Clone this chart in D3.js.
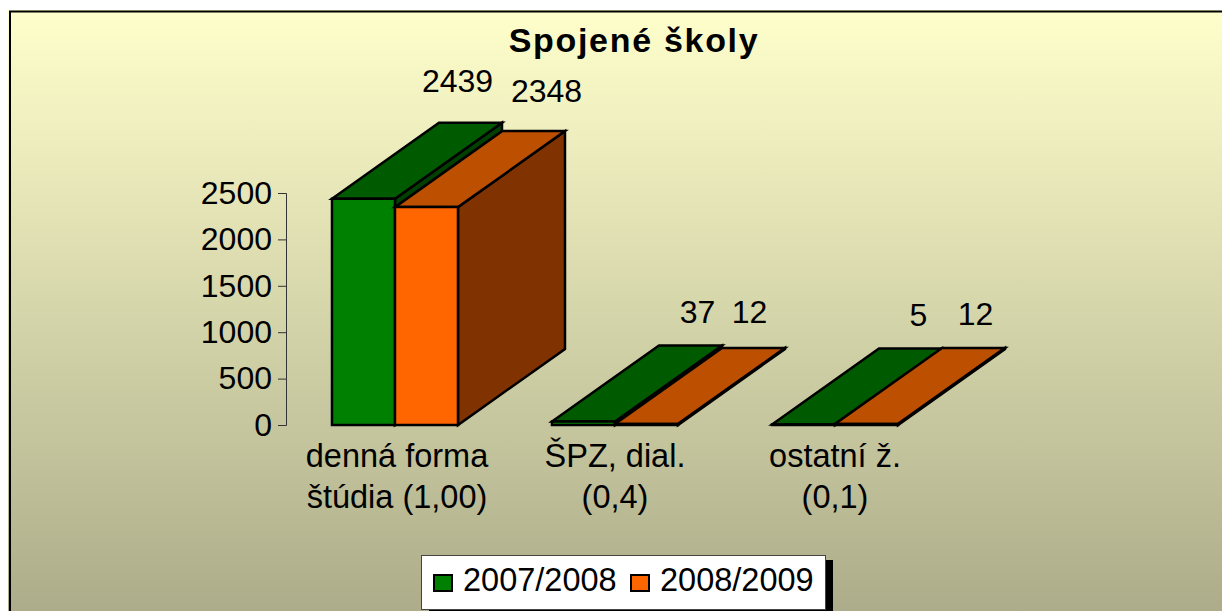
<!DOCTYPE html>
<html><head><meta charset="utf-8">
<script src="https://cdn.jsdelivr.net/npm/d3@7"></script>
<style>html,body{margin:0;padding:0;background:#fff;overflow:hidden}svg{display:block}text{font-family:"Liberation Sans",Arial,sans-serif;fill:#000}</style>
</head><body><div id="c"></div>
<script>
const title = "Spojené školy";
const categories = ["denná forma|štúdia (1,00)", "ŠPZ, dial.|(0,4)", "ostatní ž.|(0,1)"];
const seriesNames = ["2007/2008", "2008/2009"];
const values2007 = [2439, 37, 5];
const values2008 = [2348, 12, 12];
const yTicks = [0, 500, 1000, 1500, 2000, 2500];
const frontColors = ["#008000", "#FF6600"];
const topColors = ["#005A00", "#BD4F00"];
const sideColors = ["#004000", "#803300"];

const W = 1222, H = 611, FS = 32, FS2 = 32.5;
const depthX = 107, depthY = 76;
const labelDx = [[94, 114, 115], [120, 103, 109]];
const labelDy = [[107, 99, 99], [105, 101, 99]];
const svg = d3.select("#c").append("svg").attr("width", W).attr("height", H);
const defs = svg.append("defs");
const g = defs.append("linearGradient").attr("id", "bg").attr("x1", 0).attr("y1", 0).attr("x2", 0).attr("y2", 1);
g.append("stop").attr("offset", 0).attr("stop-color", "#FFFFCC");
g.append("stop").attr("offset", 1).attr("stop-color", "#ABAB89");
svg.append("rect").attr("x", 8).attr("y", 10).attr("width", 1230).attr("height", 610).attr("fill", "url(#bg)");
svg.append("path").attr("d", "M1240,11.5H10V630").attr("fill", "none").attr("stroke", "#000").attr("stroke-width", 2);

svg.append("text").attr("x", 634).attr("y", 52).attr("text-anchor", "middle")
  .attr("font-size", 34).attr("font-weight", "bold").attr("letter-spacing", 1.7).text(title);

const y = d3.scaleLinear().domain([0, 2500]).range([425, 193]);
const x0 = d3.scaleBand().domain(categories).range([286, 944]).paddingInner(0.4273).paddingOuter(0.209);
const x1 = d3.scaleBand().domain(seriesNames).range([0, x0.bandwidth()]);

const axis = svg.append("g").attr("transform", "translate(286,0)")
  .call(d3.axisLeft(y).tickValues(yTicks).tickSize(8).tickPadding(6).tickFormat(d3.format("d")));
axis.selectAll("path,line").attr("stroke", "#333").attr("stroke-width", 1);
axis.selectAll("text").attr("font-size", FS).attr("font-family", '"Liberation Sans"').attr("fill", "#000");

const series = [values2007, values2008];
series.forEach((vals, si) => {
  const sg = svg.append("g").attr("stroke", "#000").attr("stroke-width", 2.5).attr("stroke-linejoin", "miter");
  categories.forEach((c, i) => {
    const l = x0(c) + x1(seriesNames[si]), r = l + x1.bandwidth(), t = y(vals[i]), b = y(0);
    const poly = pts => d3.line()(pts) + "Z";
    sg.append("path").attr("fill", sideColors[si]).attr("d", poly([[r,t],[r+depthX,t-depthY],[r+depthX,b-depthY],[r,b]]));
    sg.append("path").attr("fill", topColors[si]).attr("d", poly([[l,t],[l+depthX,t-depthY],[r+depthX,t-depthY],[r,t]]));
    sg.append("path").attr("fill", frontColors[si]).attr("d", poly([[l,t],[r,t],[r,b],[l,b]]));
    svg.append("text").attr("x", (l + r) / 2 + labelDx[si][i]).attr("y", t - labelDy[si][i]).attr("text-anchor", "middle")
      .attr("font-size", FS).text(vals[i]);
  });
});

categories.forEach((c, i) => {
  const cx = x0(c) + x0.bandwidth() / 2 + (i === 0 ? 2 : 0);
  c.split("|").forEach((s, j) => svg.append("text").attr("x", cx).attr("y", 467 + j * 41)
    .attr("text-anchor", "middle").attr("font-size", FS2).text(s));
});

const leg = svg.append("g");
leg.append("rect").attr("x", 429).attr("y", 560).attr("width", 404).attr("height", 60).attr("fill", "#000");
leg.append("rect").attr("x", 421.5).attr("y", 555.5).attr("width", 404).attr("height", 54).attr("fill", "#fff").attr("stroke", "#444");
const legX = d3.scalePoint().domain(seriesNames).range([434, 631]);
seriesNames.forEach((s, i) => {
  leg.append("rect").attr("x", legX(s)).attr("y", 575).attr("width", 18).attr("height", 16)
    .attr("fill", frontColors[i]).attr("stroke", "#000").attr("stroke-width", 2);
  leg.append("text").attr("x", legX(s) + 29).attr("y", 591).attr("font-size", FS2).text(s);
});
</script></body></html>
